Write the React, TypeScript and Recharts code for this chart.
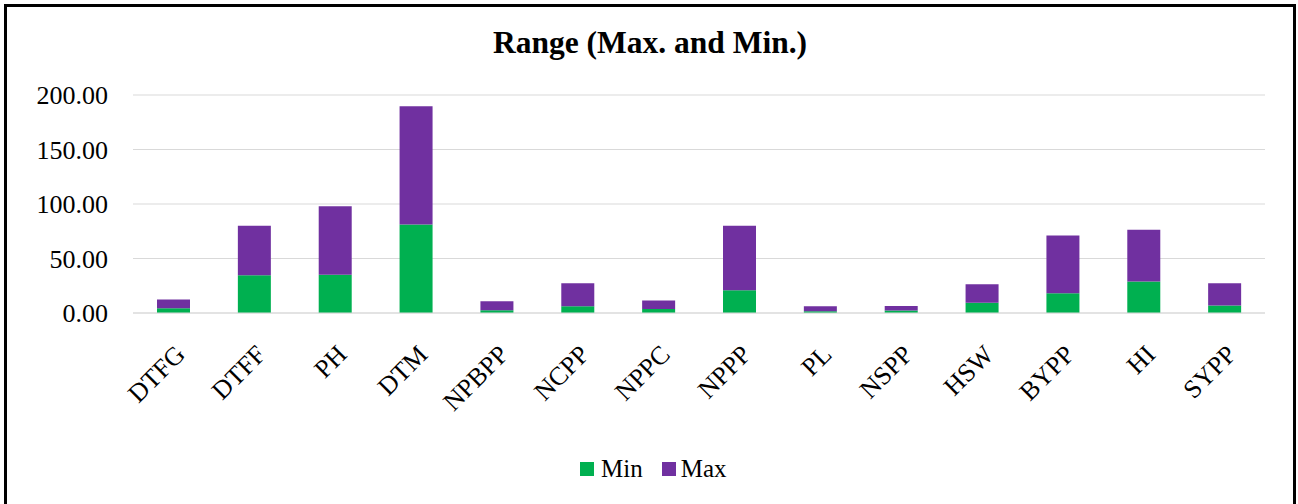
import React from 'react';
import { BarChart, Bar, XAxis, YAxis, CartesianGrid } from 'recharts';

const categories = ['DTFG', 'DTFF', 'PH', 'DTM', 'NPBPP', 'NCPP', 'NPPC', 'NPPP', 'PL', 'NSPP', 'HSW', 'BYPP', 'HI', 'SYPP'];
const minValues = [4.3, 34.6, 35.2, 81.2, 2.5, 6.2, 3.7, 20.9, 1.6, 2.2, 9.5, 18.1, 28.8, 6.8];
const maxValues = [8.0, 45.4, 62.8, 108.4, 8.2, 21.1, 7.7, 59.1, 4.6, 4.3, 16.9, 53.0, 47.5, 20.5];
const yTicks = [0, 50, 100, 150, 200];

const seriesNames = ['Min', 'Max'];
const seriesColors = ['#00B050', '#7030A0'];

const FONT = "'Times New Roman', 'Liberation Serif', serif";

const data = categories.map((name, i) => ({
  name,
  min: minValues[i],
  max: maxValues[i],
}));

const App: React.FC = () => {
  return (
    <div
      style={{
        position: 'absolute',
        left: 4,
        top: 4,
        width: 1286,
        height: 520,
        border: '3px solid #000',
        background: '#fff',
        fontFamily: FONT,
      }}
    >
      <div
        style={{
          position: 'absolute',
          top: 20,
          left: 0,
          width: 1286,
          textAlign: 'center',
          fontSize: 31.5,
          fontWeight: 'bold',
          lineHeight: 1,
          color: '#000',
        }}
      >
        Range (Max. and Min.)
      </div>
      <BarChart
        width={1286}
        height={497}
        data={data}
        margin={{ top: 88, right: 28, left: 26, bottom: 1 }}
        barSize={33}
      >
        <CartesianGrid vertical={false} stroke="#d9d9d9" strokeWidth={1.2} />
        <XAxis
          dataKey="name"
          interval={0}
          height={190}
          axisLine={{ stroke: '#d9d9d9', strokeWidth: 1.2 }}
          tickLine={false}
          tickSize={0}
          tickMargin={30}
          angle={-45}
          textAnchor="end"
          tick={{ fill: '#000', fontSize: 26, fontFamily: FONT }}
        />
        <YAxis
          width={100}
          domain={[0, 200]}
          ticks={yTicks}
          axisLine={false}
          tickLine={false}
          tickSize={0}
          tickMargin={25}
          tickFormatter={(v: number) => v.toFixed(2)}
          tick={{ fill: '#000', fontSize: 26, fontFamily: FONT }}
        />
        <Bar dataKey="min" stackId="a" fill={seriesColors[0]} isAnimationActive={false} />
        <Bar dataKey="max" stackId="a" fill={seriesColors[1]} isAnimationActive={false} />
      </BarChart>
      <div
        style={{
          position: 'absolute',
          top: 449,
          left: 573,
          display: 'flex',
          alignItems: 'center',
          fontSize: 25,
          lineHeight: 1,
          color: '#000',
        }}
      >
        {seriesNames.map((n, i) => (
          <div key={n} style={{ display: 'flex', alignItems: 'center', marginRight: i === 0 ? 19 : 0 }}>
            <span style={{ width: 14, height: 14, background: seriesColors[i], marginRight: i === 0 ? 7 : 5 }} />
            <span>{n}</span>
          </div>
        ))}
      </div>
    </div>
  );
};

export default App;
